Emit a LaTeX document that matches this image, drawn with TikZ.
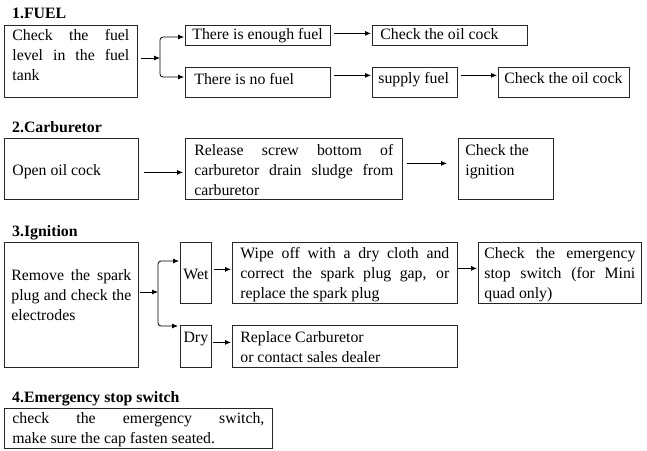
\documentclass[tikz,border=0pt]{standalone}
\usepackage{fontspec}
\setmainfont{Liberation Serif}
\usetikzlibrary{arrows.meta}
\newcommand\mlb[4]{\parbox[c][#2pt][t]{#1pt}{\rule{0pt}{#3pt}#4}}
\newcommand\jl[1]{\makebox[\linewidth][s]{#1}\\}
\begin{document}
\begin{tikzpicture}[x=1pt,y=-1pt,
  every node/.style={font=\fontsize{15.8}{20}\selectfont},
  box/.style={draw=black!85, line width=0.75pt, inner ysep=0pt, anchor=north west},
  title/.style={anchor=base west, inner sep=0pt, font=\fontsize{15.8}{20}\selectfont\bfseries},
  arr/.style={line width=0.8pt, -{Latex[length=6pt,width=5pt]}},
  conn/.style={line width=0.8pt}]
\fill[white] (0,0) rectangle (647,450);
\useasboundingbox (0,0) rectangle (647,450);

% ---------- 1. FUEL
\node[title] (t1) at (12,18) {1.FUEL};
\node[box, inner xsep=8pt] (f1) at (4,25) {\mlb{117}{72}{15.5}{\jl{Check the fuel}\jl{level in the fuel}tank}};
\node[box, inner xsep=7pt] (f2) at (185,25) {\mlb{131}{20}{14}{\mbox{There is enough fuel}}};
\node[box, inner xsep=8pt] (f3) at (372,25) {\mlb{139}{20}{14}{\mbox{Check the oil cock}}};
\node[box, inner xsep=9pt] (f4) at (185,67) {\mlb{127}{30}{17}{\mbox{There is no fuel}}};
\node[box, inner xsep=6pt] (f5) at (372,67) {\mlb{73}{30}{16}{\mbox{supply fuel}}};
\node[box, inner xsep=6pt] (f6) at (498,67) {\mlb{119}{30}{16}{\mbox{Check the oil cock}}};

\coordinate (j1) at (160,58);
\coordinate (j1t) at (160,37);
\coordinate (j1b) at (160,77);
\draw[arr, shorten <=3pt] (f1.east |- j1) -- (j1);
\draw[arr, rounded corners=3pt, shorten >=1pt] (j1) -- (j1t) -- (f2.west |- j1t);
\draw[arr, rounded corners=3pt, shorten >=1pt] (j1) -- (j1b) -- (f4.west |- j1b);
\draw[arr, shorten <=3pt, shorten >=1pt] ([yshift=2pt]f2.east) -- ([yshift=2pt]f3.west);
\draw[arr, shorten <=3pt, shorten >=1pt] ([yshift=7pt]f4.east) -- ([yshift=7pt]f5.west);
\draw[arr, shorten <=3pt, shorten >=1pt] ([yshift=7pt]f5.east) -- ([yshift=7pt]f6.west);

% ---------- 2. Carburetor
\node[title] (t2) at (12,132) {2.Carburetor};
\node[box, inner xsep=8pt] (c1) at (4,138) {\mlb{118}{61}{37}{\mbox{Open oil cock}}};
\node[box, inner xsep=9pt] (c2) at (185,138) {\mlb{199}{61}{17}{\jl{Release screw bottom of}\jl{carburetor drain sludge from}carburetor}};
\node[box, inner xsep=7pt] (c3) at (458,138) {\mlb{81}{61}{17}{Check the\\ignition}};
\draw[arr, shorten <=5pt, shorten >=2pt] ([yshift=-3.5pt]c1.east) -- ([yshift=-3.5pt]c2.west);
\draw[arr, shorten <=4pt, shorten >=11pt] ([yshift=5.5pt]c2.east) -- ([yshift=5.5pt]c3.west);

% ---------- 3. Ignition
\node[title] (t3) at (12,236) {3.Ignition};
\node[box, inner xsep=7pt] (i1) at (4,242) {\mlb{120}{125}{38}{\jl{Remove the spark}\jl{plug and check the}electrodes}};
\node[box, inner xsep=0pt] (wet) at (180,242) {\mlb{31}{61}{37}{\centering Wet}};
\node[box, inner xsep=8pt] (wipe) at (232,242) {\mlb{209}{61}{16}{\jl{Wipe off with a dry cloth and}\jl{correct the spark plug gap, or}replace the spark plug}};
\node[box, inner xsep=6pt] (em) at (478,242) {\mlb{151}{61}{16}{\jl{Check the emergency}\jl{stop switch (for Mini}quad only)}};
\node[box, inner xsep=0pt] (dry) at (180,325) {\mlb{31}{42}{17}{\centering Dry}};
\node[box, inner xsep=8pt] (rep) at (232,325) {\mlb{209}{42}{17}{Replace Carburetor\\or contact sales dealer}};

\coordinate (j3) at (158,292);
\coordinate (j3t) at (158,261);
\coordinate (j3b) at (158,326);
\draw[arr, shorten <=1pt] (i1.east |- j3) -- (j3);
\draw[arr, rounded corners=3pt, shorten >=1pt] (j3) -- (j3t) -- (wet.west |- j3t);
\draw[arr, rounded corners=3pt, shorten >=2pt] (j3) -- (j3b) -- (dry.west |- j3b);
\draw[arr, shorten <=2pt, shorten >=1pt] ([yshift=3.5pt]wet.east) -- ([yshift=3.5pt]wipe.west);
\draw[arr, shorten >=1pt] ([yshift=4.5pt]wipe.east) -- ([yshift=4.5pt]em.west);
\draw[arr, shorten <=1pt, shorten >=1pt] ([yshift=4pt]dry.east) -- ([yshift=4pt]rep.west);

% ---------- 4. Emergency stop switch
\node[title] (t4) at (12,402) {4.Emergency stop switch};
\node[box, inner xsep=8pt] (e1) at (4,408) {\mlb{252}{40}{15}{\jl{check the emergency switch,}make sure the cap fasten seated.}};
\end{tikzpicture}
\end{document}
